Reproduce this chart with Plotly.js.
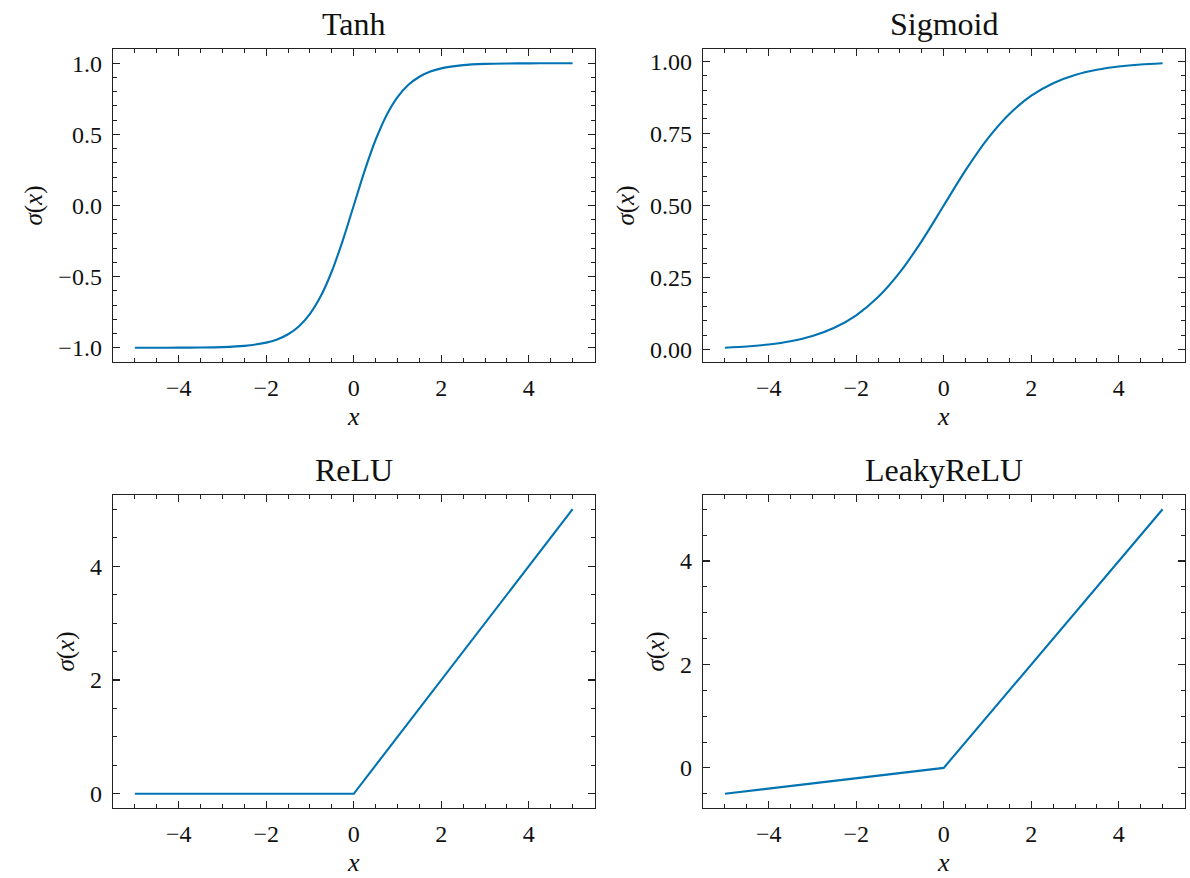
<!DOCTYPE html>
<html>
<head>
<meta charset="utf-8">
<script src="https://cdn.plot.ly/plotly-3.0.1.min.js"></script>
<style>html,body{margin:0;padding:0;background:#fff;}#chart{width:1190px;height:878px;}</style>
</head>
<body>
<div id="chart"></div>
<script>
// ---- data ----
const panelTitles = ["Tanh", "Sigmoid", "ReLU", "LeakyReLU"];

const tanhX = [-5, -4.5, -4, -3.5, -3, -2.5, -2, -1.75, -1.5, -1.25, -1, -0.75, -0.5, -0.25, 0,
               0.25, 0.5, 0.75, 1, 1.25, 1.5, 1.75, 2, 2.5, 3, 3.5, 4, 4.5, 5];
const tanhY = [-0.9999, -0.9998, -0.9993, -0.9982, -0.9951, -0.9866, -0.9640, -0.9414, -0.9051, -0.8483,
               -0.7616, -0.6351, -0.4621, -0.2449, 0,
               0.2449, 0.4621, 0.6351, 0.7616, 0.8483, 0.9051, 0.9414, 0.9640, 0.9866, 0.9951, 0.9982, 0.9993, 0.9998, 0.9999];

const sigX = [-5, -4.5, -4, -3.5, -3, -2.5, -2, -1.5, -1, -0.5, 0, 0.5, 1, 1.5, 2, 2.5, 3, 3.5, 4, 4.5, 5];
const sigY = [0.0067, 0.0110, 0.0180, 0.0293, 0.0474, 0.0759, 0.1192, 0.1824, 0.2689, 0.3775, 0.5,
              0.6225, 0.7311, 0.8176, 0.8808, 0.9241, 0.9526, 0.9707, 0.9820, 0.9890, 0.9933];

const reluX = [-5, 0, 5];
const reluY = [0, 0, 5];

const leakyX = [-5, 0, 5];
const leakyY = [-0.5, 0, 5];

const xTicks = [-4, -2, 0, 2, 4];
const tanhTicks = [-1.0, -0.5, 0.0, 0.5, 1.0];
const sigTicks = [0.00, 0.25, 0.50, 0.75, 1.00];
const reluTicks = [0, 2, 4];

// ---- styling ----
const lineColor = "#0173B2";
const FONT = "Liberation Serif, DejaVu Serif, serif";
const W = 1190, H = 878;

function px2dx(a, b) { return [a / W, b / W]; }
function py2dy(top, bottom) { return [1 - bottom / H, 1 - top / H]; }

const colDom = [px2dx(113, 594.5), px2dx(703, 1184.5)];
const rowDom = [py2dy(49, 362), py2dy(495, 808)];

function trace(x, y, i, shape) {
  return {
    x: x, y: y, type: "scatter", mode: "lines",
    xaxis: "x" + (i === 0 ? "" : i + 1), yaxis: "y" + (i === 0 ? "" : i + 1),
    line: {color: lineColor, width: 2.1, shape: shape || "linear", smoothing: 0.8},
    hoverinfo: "skip", showlegend: false
  };
}

function xAxis(i) {
  return {
    domain: colDom[i % 2],
    anchor: "y" + (i === 0 ? "" : i + 1),
    range: [-5.5, 5.5],
    tickvals: xTicks,
    ticktext: xTicks.map(v => v < 0 ? "\u2212" + Math.abs(v) : String(v)),
    ticks: "inside", ticklen: 7, tickwidth: 1.1, tickcolor: "#222",
    minor: {dtick: 0.5, tick0: 0, ticks: "inside", ticklen: 4, tickwidth: 1, tickcolor: "#222", showgrid: false},
    showline: true, linecolor: "#222", linewidth: 1.3, mirror: "allticks",
    showgrid: false, zeroline: false,
    tickfont: {family: FONT, size: 24, color: "#111"},
    ticklabelstandoff: 4,
    title: {text: "<i>x</i>", font: {family: FONT, size: 26, color: "#111"}, standoff: 6}
  };
}

function yAxis(i, range, vals, texts, minorStep) {
  return {
    domain: rowDom[Math.floor(i / 2)],
    anchor: "x" + (i === 0 ? "" : i + 1),
    range: range,
    tickvals: vals,
    ticktext: texts,
    ticks: "inside", ticklen: 7, tickwidth: 1.1, tickcolor: "#222",
    minor: {dtick: minorStep, tick0: 0, ticks: "inside", ticklen: 4, tickwidth: 1, tickcolor: "#222", showgrid: false},
    showline: true, linecolor: "#222", linewidth: 1.3, mirror: "allticks",
    showgrid: false, zeroline: false,
    tickfont: {family: FONT, size: 24, color: "#111"},
    ticklabelstandoff: 5,
    title: {text: "<i>σ</i>(<i>x</i>)", font: {family: FONT, size: 25, color: "#111"}, standoff: 8}
  };
}

const fmt = (v, d) => (v < 0 ? "\u2212" : "") + Math.abs(v).toFixed(d);

const data = [
  trace(tanhX, tanhY, 0, "spline"),
  trace(sigX, sigY, 1, "spline"),
  trace(reluX, reluY, 2),
  trace(leakyX, leakyY, 3)
];

const layout = {
  width: W, height: H,
  margin: {l: 0, r: 0, t: 0, b: 0},
  paper_bgcolor: "#fff", plot_bgcolor: "#fff",
  font: {family: FONT, color: "#111"},
  xaxis: xAxis(0), xaxis2: xAxis(1), xaxis3: xAxis(2), xaxis4: xAxis(3),
  yaxis: yAxis(0, [-1.1, 1.1], tanhTicks, tanhTicks.map(v => fmt(v, 1)), 0.1),
  yaxis2: yAxis(1, [-0.0426, 1.0426], sigTicks, sigTicks.map(v => fmt(v, 2)), 0.05),
  yaxis3: yAxis(2, [-0.25, 5.25], reluTicks, reluTicks.map(v => fmt(v, 0)), 0.5),
  yaxis4: yAxis(3, [-0.775, 5.275], reluTicks, reluTicks.map(v => fmt(v, 0)), 0.5),
  annotations: panelTitles.map((t, i) => ({
    text: t, showarrow: false,
    xref: "x" + (i === 0 ? "" : i + 1) + " domain", x: 0.5,
    yref: "y" + (i === 0 ? "" : i + 1) + " domain", y: 1,
    xanchor: "center", yanchor: "bottom", yshift: 5,
    font: {family: FONT, size: 32, color: "#111"}
  }))
};

Plotly.newPlot("chart", data, layout, {displayModeBar: false, staticPlot: true});
</script>
</body>
</html>
